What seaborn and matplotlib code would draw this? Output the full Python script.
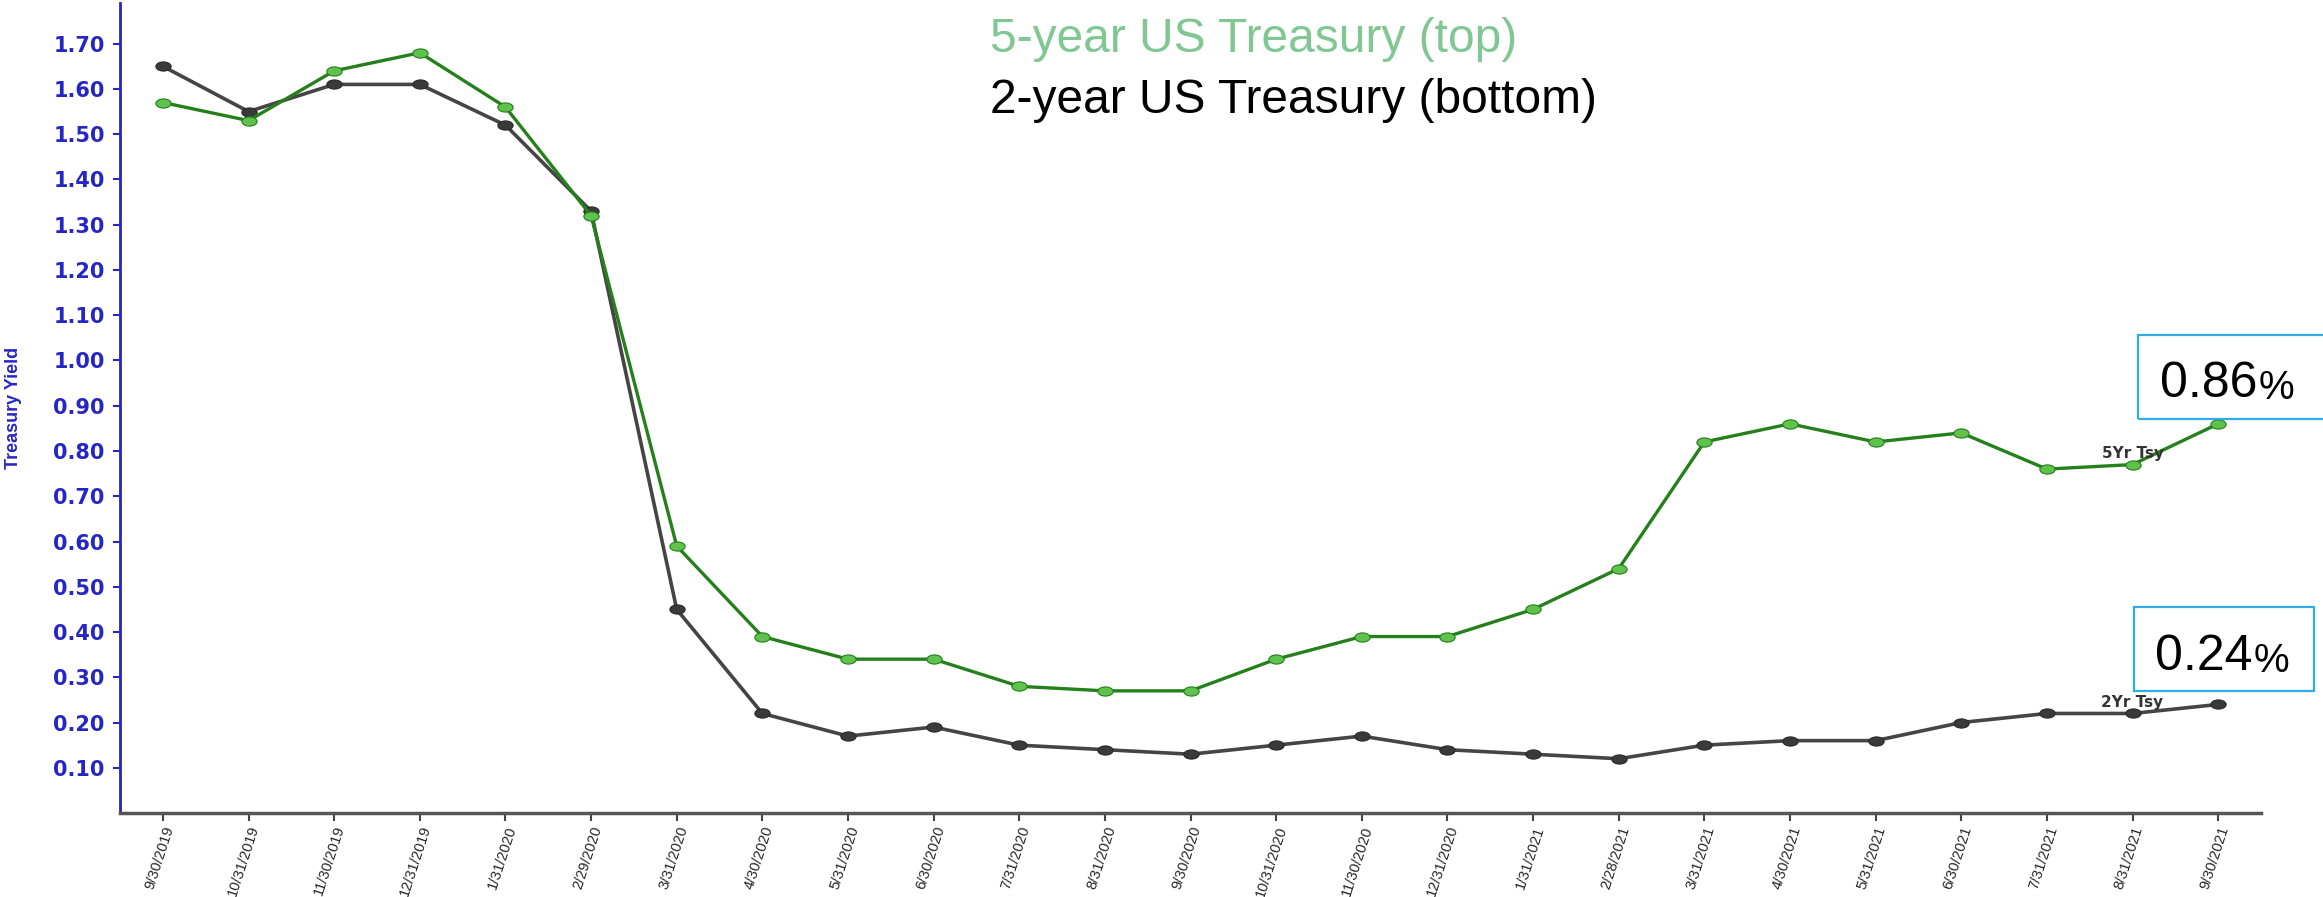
import numpy as np
import pandas as pd
import matplotlib
matplotlib.use("Agg")
import matplotlib.pyplot as plt
from matplotlib.path import Path
from matplotlib.transforms import Affine2D
from matplotlib.patches import Rectangle
import seaborn as sns

# month-end dates shown on the x axis
dates = ["9/30/2019", "10/31/2019", "11/30/2019", "12/31/2019", "1/31/2020",
         "2/29/2020", "3/31/2020", "4/30/2020", "5/31/2020", "6/30/2020",
         "7/31/2020", "8/31/2020", "9/30/2020", "10/31/2020", "11/30/2020",
         "12/31/2020", "1/31/2021", "2/28/2021", "3/31/2021", "4/30/2021",
         "5/31/2021", "6/30/2021", "7/31/2021", "8/31/2021", "9/30/2021"]

tsy5 = [1.57, 1.53, 1.64, 1.68, 1.56, 1.32, 0.59, 0.39, 0.34, 0.34,
        0.28, 0.27, 0.27, 0.34, 0.39, 0.39, 0.45, 0.54, 0.82, 0.86,
        0.82, 0.84, 0.76, 0.77, 0.86]
tsy2 = [1.65, 1.55, 1.61, 1.61, 1.52, 1.33, 0.45, 0.22, 0.17, 0.19,
        0.15, 0.14, 0.13, 0.15, 0.17, 0.14, 0.13, 0.12, 0.15, 0.16,
        0.16, 0.20, 0.22, 0.22, 0.24]

yticks = [0.10, 0.20, 0.30, 0.40, 0.50, 0.60, 0.70, 0.80, 0.90,
          1.00, 1.10, 1.20, 1.30, 1.40, 1.50, 1.60, 1.70]

df = pd.DataFrame({"pos": range(len(dates)), "date": dates,
                   "tsy5": tsy5, "tsy2": tsy2})

sns.set_theme(style="white")
plt.rcParams["font.family"] = ["Liberation Sans", "DejaVu Sans"]

fig = plt.figure(figsize=(23.23, 8.97), dpi=100)
ax = fig.add_axes([0.0517, 0.0936, 0.9216, 0.9031])

# flattened marker (the original picture is stretched sideways)
ell = Path.unit_circle().transformed(Affine2D().scale(1.0, 0.6))

sns.lineplot(data=df, x="pos", y="tsy2", ax=ax, color="#454545", lw=2.6,
             marker=ell, markersize=11, markerfacecolor="#3a3a3a",
             markeredgecolor="#2a2a2a", markeredgewidth=0.8)
sns.lineplot(data=df, x="pos", y="tsy5", ax=ax, color="#23801a", lw=2.4,
             marker=ell, markersize=11, markerfacecolor="#5fc24c",
             markeredgecolor="#23801a", markeredgewidth=0.8)

ax.set_xlim(-0.5, len(dates) - 0.5)
ax.set_ylim(0, 1.79)

ax.set_xticks(df["pos"])
ax.set_xticklabels(dates, rotation=72, ha="right", va="top",
                   rotation_mode="anchor", fontsize=10.5,
                   family="Liberation Sans")
ax.set_yticks(yticks)
ax.set_yticklabels([f"{v:.2f}" for v in yticks], fontsize=15,
                   fontweight="bold", color="#2626c4", family="DejaVu Sans")

ax.tick_params(axis="y", which="both", left=True, length=5, width=1.5,
               color="#2626c4", pad=6)
ax.tick_params(axis="x", which="both", bottom=True, length=6, width=1.5,
               color="#444444", pad=2)

for s in ["top", "right"]:
    ax.spines[s].set_visible(False)
ax.spines["left"].set_color("#2626c4")
ax.spines["left"].set_linewidth(2)
ax.spines["bottom"].set_color("#555555")
ax.spines["bottom"].set_linewidth(2.5)

ax.set_xlabel("")
ax.set_ylabel("Treasury Yield", fontsize=13, fontweight="bold",
              color="#2626c4", family="Liberation Sans")
ax.yaxis.set_label_coords(-0.046, 0.5)

# series tags near the right end
ax.text(23, 0.795, "5Yr Tsy", ha="center", va="center", fontsize=11,
        fontweight="bold", color="#333333", family="DejaVu Sans")
ax.text(23, 0.245, "2Yr Tsy", ha="center", va="center", fontsize=11,
        fontweight="bold", color="#333333", family="DejaVu Sans")

# headline legend
fig.text(990 / 2323, 1 - 52 / 897, "5-year US Treasury (top)",
         fontsize=34.5, color="#80c793", va="baseline", ha="left")
fig.text(990 / 2323, 1 - 113 / 897, "2-year US Treasury (bottom)",
         fontsize=34.5, color="black", va="baseline", ha="left")

# boxed latest values
W, H = 2323, 897
for (x0, x1, y0, y1, tx, ty, val) in [
        (2138, 2330, 335, 419, 2160, 397, "0.86"),
        (2134, 2314, 607, 691, 2155, 670, "0.24")]:
    fig.patches.append(Rectangle((x0 / W, 1 - y1 / H), (x1 - x0) / W,
                                 (y1 - y0) / H, transform=fig.transFigure,
                                 fill=False, edgecolor="#2eaee4", lw=1.6))
    t = fig.text(tx / W, 1 - ty / H, val, fontsize=36, color="black",
                 va="baseline", ha="left")
    ax.annotate("%", xy=(1, 0), xycoords=t, xytext=(1, 0),
                textcoords="offset points", fontsize=29, color="black",
                va="bottom", ha="left", annotation_clip=False)

fig.savefig("out.png", dpi=100)
